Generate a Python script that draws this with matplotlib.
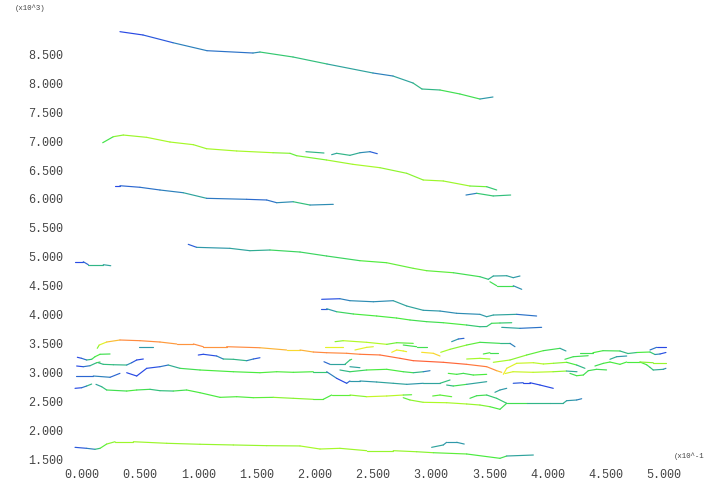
import numpy as np
import matplotlib
matplotlib.use("Agg")
import matplotlib.pyplot as plt
from matplotlib.collections import LineCollection
from matplotlib.colors import LinearSegmentedColormap

# ---------------- data (x in units of 10^-1, y in units of 10^3, c = colour value 0..1) -------------
tr01_x = [0.326, 0.524, 0.782, 1.074, 1.469, 1.529, 1.813, 2.105, 2.500, 2.672, 2.844, 2.921, 3.076, 3.247, 3.419, 3.531]
tr01_y = [8.893, 8.836, 8.702, 8.564, 8.524, 8.541, 8.455, 8.334, 8.178, 8.126, 8.005, 7.901, 7.884, 7.815, 7.728, 7.763]
tr01_c = [0.10, 0.15, 0.20, 0.30, 0.15, 0.40, 0.45, 0.35, 0.30, 0.20, 0.45, 0.30, 0.45, 0.50, 0.45, 0.15]

tr02_x = [0.178, 0.269, 0.355, 0.556, 0.756, 0.957, 1.071, 1.329, 1.641, 1.787, 1.845, 2.102, 2.328, 2.560, 2.790, 2.932, 3.104, 3.333, 3.477, 3.563]
tr02_y = [6.972, 7.076, 7.105, 7.065, 6.984, 6.938, 6.868, 6.829, 6.799, 6.789, 6.747, 6.673, 6.598, 6.540, 6.443, 6.327, 6.310, 6.223, 6.211, 6.154]
tr02_c = [0.42, 0.55, 0.60, 0.60, 0.62, 0.60, 0.60, 0.62, 0.60, 0.55, 0.52, 0.60, 0.60, 0.62, 0.55, 0.60, 0.60, 0.60, 0.50, 0.35]

tr03_x = [1.924, 2.079]
tr03_y = [6.817, 6.794]
tr03_c = [0.40, 0.35]

tr04_x = [2.145, 2.188, 2.302, 2.388, 2.474, 2.537]
tr04_y = [6.765, 6.789, 6.754, 6.799, 6.817, 6.782]
tr04_c = [0.30, 0.35, 0.40, 0.30, 0.25, 0.12]

tr05_x = [0.284, 0.326, 0.498, 0.670, 0.870, 1.071, 1.415, 1.587, 1.673, 1.815, 1.959, 2.159]
tr05_y = [6.228, 6.228, 6.201, 6.154, 6.107, 6.010, 5.993, 5.981, 5.934, 5.951, 5.894, 5.906]
tr05_c = [0.12, 0.15, 0.25, 0.20, 0.30, 0.35, 0.12, 0.30, 0.15, 0.40, 0.40, 0.15]

tr06_x = [3.299, 3.391, 3.533, 3.683]
tr06_y = [6.067, 6.097, 6.051, 6.067]
tr06_c = [0.15, 0.35, 0.50, 0.30]

tr07_x = [-0.060, 0.011, 0.054, 0.183, 0.247]
tr07_y = [4.913, 4.913, 4.862, 4.862, 4.844]
tr07_c = [0.20, 0.10, 0.30, 0.45, 0.20]

tr08_x = [0.913, 0.985, 1.271, 1.443, 1.615, 1.873, 2.102, 2.388, 2.617, 2.846, 2.961, 3.190, 3.419, 3.491, 3.534, 3.649, 3.705, 3.763]
tr08_y = [5.214, 5.162, 5.145, 5.104, 5.116, 5.081, 5.012, 4.931, 4.896, 4.799, 4.758, 4.723, 4.654, 4.609, 4.666, 4.671, 4.637, 4.666]
tr08_c = [0.12, 0.25, 0.35, 0.30, 0.40, 0.50, 0.40, 0.50, 0.52, 0.55, 0.55, 0.50, 0.45, 0.40, 0.30, 0.35, 0.30, 0.30]

tr09_x = [3.505, 3.563, 3.705, 3.778]
tr09_y = [4.567, 4.498, 4.498, 4.436]
tr09_c = [0.45, 0.50, 0.45, 0.12]

tr10_x = [2.059, 2.216, 2.302, 2.503, 2.674, 2.790, 2.932, 3.076, 3.219, 3.419, 3.477, 3.534, 3.735, 3.906]
tr10_y = [4.263, 4.273, 4.239, 4.221, 4.239, 4.147, 4.073, 4.060, 4.021, 4.003, 3.962, 3.991, 4.003, 3.974]
tr10_c = [0.12, 0.20, 0.30, 0.25, 0.30, 0.35, 0.30, 0.30, 0.25, 0.30, 0.30, 0.35, 0.30, 0.15]

tr11_x = [2.051, 2.102, 2.188, 2.331, 2.532, 2.703, 2.818, 2.961, 3.104, 3.305, 3.419, 3.477, 3.520, 3.591, 3.692]
tr11_y = [4.100, 4.100, 4.048, 4.009, 3.974, 3.939, 3.905, 3.876, 3.858, 3.818, 3.789, 3.792, 3.848, 3.853, 3.858]
tr11_c = [0.15, 0.20, 0.40, 0.50, 0.50, 0.50, 0.50, 0.45, 0.50, 0.50, 0.35, 0.40, 0.45, 0.50, 0.35]

tr12_x = [3.606, 3.763, 3.949]
tr12_y = [3.778, 3.761, 3.778]
tr12_c = [0.35, 0.30, 0.15]

tr13_x = [0.131, 0.148, 0.212, 0.326, 0.498, 0.670, 0.814, 0.957, 1.042, 1.243, 1.529, 1.758, 1.873, 1.987, 2.102, 2.274, 2.388, 2.560, 2.732, 2.846, 3.104, 3.305, 3.477, 3.563, 3.606]
tr13_y = [3.415, 3.472, 3.524, 3.559, 3.547, 3.524, 3.490, 3.490, 3.443, 3.443, 3.425, 3.386, 3.386, 3.351, 3.339, 3.329, 3.312, 3.300, 3.242, 3.201, 3.173, 3.138, 3.097, 3.028, 3.000]
tr13_c = [0.50, 0.65, 0.75, 0.85, 0.87, 0.85, 0.83, 0.87, 0.85, 0.85, 0.87, 0.75, 0.78, 0.85, 0.88, 0.85, 0.90, 0.92, 0.93, 0.95, 0.95, 0.93, 0.88, 0.85, 0.75]

tr14_x = [3.620, 3.649, 3.735, 3.878, 3.964, 4.050, 4.164, 4.250, 4.321]
tr14_y = [2.965, 3.069, 3.156, 3.166, 3.144, 3.156, 3.173, 3.126, 3.069]
tr14_c = [0.75, 0.72, 0.68, 0.65, 0.62, 0.60, 0.55, 0.45, 0.30]

tr15_x = [3.635, 3.703, 3.875, 4.047, 4.162, 4.253]
tr15_y = [2.979, 3.010, 3.000, 3.010, 3.022, 3.010]
tr15_c = [0.70, 0.68, 0.65, 0.62, 0.55, 0.15]

tr16_x = [4.192, 4.250, 4.307, 4.350, 4.421, 4.507]
tr16_y = [2.982, 2.941, 2.953, 3.028, 3.052, 3.041]
tr16_c = [0.45, 0.50, 0.50, 0.45, 0.50, 0.45]

tr17_x = [4.278, 4.390, 4.476, 4.622, 4.691, 4.768, 4.880, 4.923, 4.966, 5.017]
tr17_y = [3.339, 3.339, 3.374, 3.369, 3.325, 3.343, 3.351, 3.308, 3.317, 3.343]
tr17_c = [0.45, 0.50, 0.50, 0.45, 0.30, 0.50, 0.50, 0.35, 0.20, 0.12]

tr18_x = [4.880, 4.937, 5.017]
tr18_y = [3.386, 3.432, 3.432]
tr18_c = [0.30, 0.15, 0.12]

tr19_x = [4.149, 4.221, 4.349]
tr19_y = [3.225, 3.270, 3.287]
tr19_c = [0.45, 0.50, 0.45]

tr20_x = [4.536, 4.594, 4.680]
tr20_y = [3.225, 3.270, 3.282]
tr20_c = [0.40, 0.30, 0.30]

tr21_x = [4.407, 4.479, 4.536, 4.622, 4.680, 4.794, 4.851, 4.880, 4.908, 4.994, 5.017]
tr21_y = [3.109, 3.155, 3.178, 3.138, 3.178, 3.178, 3.131, 3.086, 3.040, 3.052, 3.069]
tr21_c = [0.45, 0.50, 0.50, 0.50, 0.50, 0.50, 0.50, 0.45, 0.40, 0.30, 0.25]

tr22_x = [4.794, 4.908, 5.017]
tr22_y = [3.178, 3.166, 3.166]
tr22_c = [0.55, 0.60, 0.58]

tr23_x = [2.174, 2.245, 2.446, 2.618, 2.704, 2.846]
tr23_y = [3.530, 3.547, 3.519, 3.484, 3.512, 3.501]
tr23_c = [0.55, 0.60, 0.65, 0.60, 0.50, 0.55]

tr24_x = [2.760, 2.875, 2.961]
tr24_y = [3.472, 3.443, 3.443]
tr24_c = [0.50, 0.45, 0.50]

tr25_x = [2.088, 2.245]
tr25_y = [3.432, 3.432]
tr25_c = [0.72, 0.70]

tr26_x = [2.345, 2.446, 2.503]
tr26_y = [3.386, 3.432, 3.443]
tr26_c = [0.72, 0.70, 0.68]

tr27_x = [2.661, 2.704, 2.760, 2.789]
tr27_y = [3.346, 3.386, 3.369, 3.357]
tr27_c = [0.75, 0.72, 0.70, 0.72]

tr28_x = [2.918, 3.018, 3.076]
tr28_y = [3.346, 3.329, 3.282]
tr28_c = [0.75, 0.76, 0.78]

tr29_x = [3.082, 3.162, 3.305, 3.419, 3.591, 3.677, 3.720]
tr29_y = [3.346, 3.398, 3.472, 3.519, 3.501, 3.501, 3.443]
tr29_c = [0.62, 0.60, 0.55, 0.50, 0.45, 0.30, 0.20]

tr30_x = [3.176, 3.233, 3.282]
tr30_y = [3.530, 3.576, 3.588]
tr30_c = [0.35, 0.25, 0.15]

tr31_x = [3.448, 3.505, 3.577]
tr31_y = [3.317, 3.339, 3.339]
tr31_c = [0.50, 0.50, 0.45]

tr32_x = [3.305, 3.419, 3.505]
tr32_y = [3.230, 3.242, 3.230]
tr32_c = [0.60, 0.62, 0.60]

tr33_x = [3.534, 3.677, 3.820, 3.963, 4.107, 4.158]
tr33_y = [3.173, 3.213, 3.299, 3.374, 3.415, 3.369]
tr33_c = [0.62, 0.60, 0.55, 0.50, 0.45, 0.20]

tr34_x = [-0.040, -0.003, 0.040, 0.083, 0.112, 0.155, 0.241]
tr34_y = [3.260, 3.242, 3.213, 3.225, 3.270, 3.312, 3.317]
tr34_c = [0.15, 0.12, 0.30, 0.45, 0.50, 0.50, 0.45]

tr35_x = [0.490, 0.613]
tr35_y = [3.443, 3.443]
tr35_c = [0.20, 0.40]

tr36_x = [-0.046, 0.011, 0.069, 0.126, 0.155]
tr36_y = [3.109, 3.097, 3.114, 3.166, 3.178]
tr36_c = [0.15, 0.15, 0.30, 0.45, 0.50]

tr37_x = [0.140, 0.183, 0.269, 0.384, 0.427, 0.470, 0.527]
tr37_y = [3.166, 3.138, 3.131, 3.126, 3.166, 3.213, 3.230]
tr37_c = [0.35, 0.40, 0.40, 0.35, 0.20, 0.15, 0.12]

tr38_x = [-0.052, 0.097, 0.241, 0.326]
tr38_y = [2.936, 2.936, 2.914, 2.982]
tr38_c = [0.15, 0.25, 0.25, 0.15]

tr39_x = [0.384, 0.470, 0.556, 0.670, 0.741, 0.842, 1.014, 1.300, 1.529, 1.673, 1.815, 1.987, 2.102, 2.188, 2.274, 2.302, 2.388, 2.532, 2.674, 2.790, 2.932, 3.076, 3.162]
tr39_y = [2.993, 2.936, 3.069, 3.097, 3.126, 3.069, 3.040, 3.010, 2.993, 3.010, 3.000, 3.010, 3.010, 2.896, 2.810, 2.850, 2.850, 2.832, 2.810, 2.792, 2.810, 2.810, 2.867]
tr39_c = [0.12, 0.15, 0.12, 0.20, 0.25, 0.45, 0.50, 0.50, 0.50, 0.52, 0.50, 0.50, 0.35, 0.15, 0.10, 0.30, 0.30, 0.30, 0.35, 0.30, 0.30, 0.35, 0.45]

tr40_x = [3.133, 3.190, 3.305, 3.477]
tr40_y = [2.780, 2.763, 2.792, 2.838]
tr40_c = [0.30, 0.45, 0.50, 0.15]

tr41_x = [-0.060, -0.003, 0.040, 0.083]
tr41_y = [2.723, 2.733, 2.763, 2.797]
tr41_c = [0.15, 0.15, 0.30, 0.45]

tr42_x = [0.120, 0.169, 0.212, 0.384, 0.470, 0.584, 0.670, 0.784, 0.899, 1.014, 1.186, 1.329, 1.472, 1.644, 1.815, 1.987, 2.073, 2.145, 2.302, 2.446, 2.618, 2.760, 2.832]
tr42_y = [2.792, 2.751, 2.694, 2.676, 2.694, 2.706, 2.682, 2.676, 2.694, 2.647, 2.567, 2.578, 2.561, 2.567, 2.550, 2.533, 2.533, 2.607, 2.607, 2.578, 2.590, 2.607, 2.612]
tr42_c = [0.30, 0.35, 0.45, 0.50, 0.50, 0.45, 0.35, 0.45, 0.50, 0.50, 0.50, 0.52, 0.50, 0.55, 0.60, 0.55, 0.50, 0.50, 0.55, 0.60, 0.72, 0.55, 0.50]

tr43_x = [2.760, 2.818, 2.932, 3.133, 3.305, 3.419, 3.505, 3.591, 3.649, 3.820, 4.021, 4.135, 4.164, 4.250, 4.293]
tr43_y = [2.561, 2.521, 2.481, 2.474, 2.452, 2.434, 2.405, 2.360, 2.464, 2.464, 2.464, 2.464, 2.509, 2.521, 2.543]
tr43_c = [0.50, 0.55, 0.62, 0.62, 0.60, 0.58, 0.55, 0.45, 0.50, 0.45, 0.30, 0.40, 0.30, 0.30, 0.20]

tr44_x = [3.333, 3.391, 3.477, 3.563, 3.649]
tr44_y = [2.550, 2.595, 2.607, 2.550, 2.464]
tr44_c = [0.45, 0.50, 0.45, 0.40, 0.45]

tr45_x = [3.013, 3.076, 3.176]
tr45_y = [2.590, 2.607, 2.578]
tr45_c = [0.50, 0.55, 0.50]

tr46_x = [3.548, 3.591, 3.649]
tr46_y = [2.654, 2.694, 2.723]
tr46_c = [0.35, 0.30, 0.30]

tr47_x = [3.705, 3.791, 3.849, 3.935, 4.049]
tr47_y = [2.810, 2.820, 2.820, 2.780, 2.723]
tr47_c = [0.20, 0.15, 0.10, 0.15, 0.12]

tr48_x = [0.999, 1.042, 1.157, 1.214, 1.300, 1.415, 1.472, 1.529]
tr48_y = [3.299, 3.312, 3.282, 3.230, 3.225, 3.201, 3.230, 3.252]
tr48_c = [0.15, 0.12, 0.20, 0.30, 0.45, 0.30, 0.20, 0.15]

tr49_x = [2.079, 2.131, 2.259, 2.302, 2.317]
tr49_y = [3.183, 3.138, 3.138, 3.213, 3.225]
tr49_c = [0.12, 0.30, 0.35, 0.45, 0.50]

tr50_x = [2.302, 2.388]
tr50_y = [3.097, 3.080]
tr50_c = [0.35, 0.30]

tr51_x = [2.216, 2.302, 2.446, 2.618, 2.760, 2.846, 2.932, 2.990]
tr51_y = [3.040, 3.010, 3.040, 3.052, 3.010, 2.993, 3.010, 3.028]
tr51_c = [0.35, 0.40, 0.50, 0.50, 0.50, 0.45, 0.30, 0.20]

tr52_x = [3.147, 3.219, 3.276, 3.362, 3.477]
tr52_y = [2.982, 2.965, 2.982, 2.953, 2.965]
tr52_c = [0.50, 0.50, 0.45, 0.50, 0.50]

tr53_x = [-0.060, 0.040, 0.112, 0.155, 0.212, 0.284, 0.441, 0.728, 1.014, 1.300, 1.587, 1.873, 2.045, 2.216, 2.446, 2.674, 2.875, 3.018, 3.305, 3.591, 3.649, 3.878]
tr53_y = [1.702, 1.685, 1.668, 1.685, 1.759, 1.799, 1.799, 1.772, 1.755, 1.743, 1.731, 1.726, 1.673, 1.685, 1.644, 1.644, 1.626, 1.609, 1.587, 1.512, 1.552, 1.569]
tr53_c = [0.15, 0.20, 0.30, 0.50, 0.55, 0.60, 0.60, 0.60, 0.58, 0.60, 0.58, 0.60, 0.62, 0.60, 0.60, 0.58, 0.60, 0.55, 0.50, 0.50, 0.45, 0.20]

tr54_x = [3.004, 3.104, 3.133, 3.219, 3.284]
tr54_y = [1.702, 1.743, 1.789, 1.789, 1.759]
tr54_c = [0.35, 0.30, 0.30, 0.30, 0.30]

x_ticks = [0.0, 0.5, 1.0, 1.5, 2.0, 2.5, 3.0, 3.5, 4.0, 4.5, 5.0]
y_ticks = [1.5, 2.0, 2.5, 3.0, 3.5, 4.0, 4.5, 5.0, 5.5, 6.0, 6.5, 7.0, 7.5, 8.0, 8.5]
x_unit_label = "(x10^-1"
y_unit_label = "(x10^3)"

tracks = [
    (tr01_x, tr01_y, tr01_c), (tr02_x, tr02_y, tr02_c), (tr03_x, tr03_y, tr03_c),
    (tr04_x, tr04_y, tr04_c), (tr05_x, tr05_y, tr05_c), (tr06_x, tr06_y, tr06_c),
    (tr07_x, tr07_y, tr07_c), (tr08_x, tr08_y, tr08_c), (tr09_x, tr09_y, tr09_c),
    (tr10_x, tr10_y, tr10_c), (tr11_x, tr11_y, tr11_c), (tr12_x, tr12_y, tr12_c),
    (tr13_x, tr13_y, tr13_c), (tr14_x, tr14_y, tr14_c), (tr15_x, tr15_y, tr15_c),
    (tr16_x, tr16_y, tr16_c), (tr17_x, tr17_y, tr17_c), (tr18_x, tr18_y, tr18_c),
    (tr19_x, tr19_y, tr19_c), (tr20_x, tr20_y, tr20_c), (tr21_x, tr21_y, tr21_c),
    (tr22_x, tr22_y, tr22_c), (tr23_x, tr23_y, tr23_c), (tr24_x, tr24_y, tr24_c),
    (tr25_x, tr25_y, tr25_c), (tr26_x, tr26_y, tr26_c), (tr27_x, tr27_y, tr27_c),
    (tr28_x, tr28_y, tr28_c), (tr29_x, tr29_y, tr29_c), (tr30_x, tr30_y, tr30_c),
    (tr31_x, tr31_y, tr31_c), (tr32_x, tr32_y, tr32_c), (tr33_x, tr33_y, tr33_c),
    (tr34_x, tr34_y, tr34_c), (tr35_x, tr35_y, tr35_c), (tr36_x, tr36_y, tr36_c),
    (tr37_x, tr37_y, tr37_c), (tr38_x, tr38_y, tr38_c), (tr39_x, tr39_y, tr39_c),
    (tr40_x, tr40_y, tr40_c), (tr41_x, tr41_y, tr41_c), (tr42_x, tr42_y, tr42_c),
    (tr43_x, tr43_y, tr43_c), (tr44_x, tr44_y, tr44_c), (tr45_x, tr45_y, tr45_c),
    (tr46_x, tr46_y, tr46_c), (tr47_x, tr47_y, tr47_c), (tr48_x, tr48_y, tr48_c),
    (tr49_x, tr49_y, tr49_c), (tr50_x, tr50_y, tr50_c), (tr51_x, tr51_y, tr51_c),
    (tr52_x, tr52_y, tr52_c), (tr53_x, tr53_y, tr53_c), (tr54_x, tr54_y, tr54_c),
]

# ---------------- style ----------------
cmap = LinearSegmentedColormap.from_list("track", [
    (0.00, (0.14, 0.18, 0.86)),
    (0.15, (0.16, 0.30, 0.90)),
    (0.30, (0.18, 0.60, 0.66)),
    (0.42, (0.20, 0.78, 0.45)),
    (0.50, (0.28, 0.92, 0.25)),
    (0.62, (0.68, 0.98, 0.15)),
    (0.74, (0.97, 0.93, 0.16)),
    (0.86, (1.00, 0.55, 0.25)),
    (1.00, (1.00, 0.30, 0.20)),
])

fig = plt.figure(figsize=(7.05, 4.82), dpi=100)
ax = fig.add_axes([0.0998, 0.0357, 0.8915, 0.9114])
ax.set_xlim(-0.1, 5.3)
ax.set_ylim(1.4, 9.0)

for xs, ys, cs in tracks:
    pts = np.column_stack([xs, ys])
    segs = np.stack([pts[:-1], pts[1:]], axis=1)
    cvals = (np.asarray(cs[:-1]) + np.asarray(cs[1:])) / 2.0
    lc = LineCollection(segs, cmap=cmap, linewidths=0.85, capstyle="round", joinstyle="round")
    lc.set_array(cvals)
    lc.set_clim(0, 1)
    ax.add_collection(lc)

for s in ax.spines.values():
    s.set_visible(False)
ax.set_xticks(x_ticks)
ax.set_xticklabels([f"{v:.3f}" for v in x_ticks])
ax.set_yticks(y_ticks)
ax.set_yticklabels([f"{v:.3f}" for v in y_ticks])
ax.tick_params(axis="both", length=0, labelsize=8.5, labelcolor="#444444")
ax.tick_params(axis="x", pad=3)
ax.tick_params(axis="y", pad=5)
for lab in ax.get_xticklabels() + ax.get_yticklabels():
    lab.set_fontfamily("Liberation Mono")

fig.text(674 / 705, 1 - 456 / 482, x_unit_label, fontsize=5.3, color="#444444",
         family="Liberation Mono", ha="left", va="center")
fig.text(15 / 705, 1 - 12 / 482, y_unit_label, fontsize=5.3, color="#444444",
         family="Liberation Mono", ha="left", va="bottom")

fig.savefig("out.png", dpi=100, facecolor="white")
